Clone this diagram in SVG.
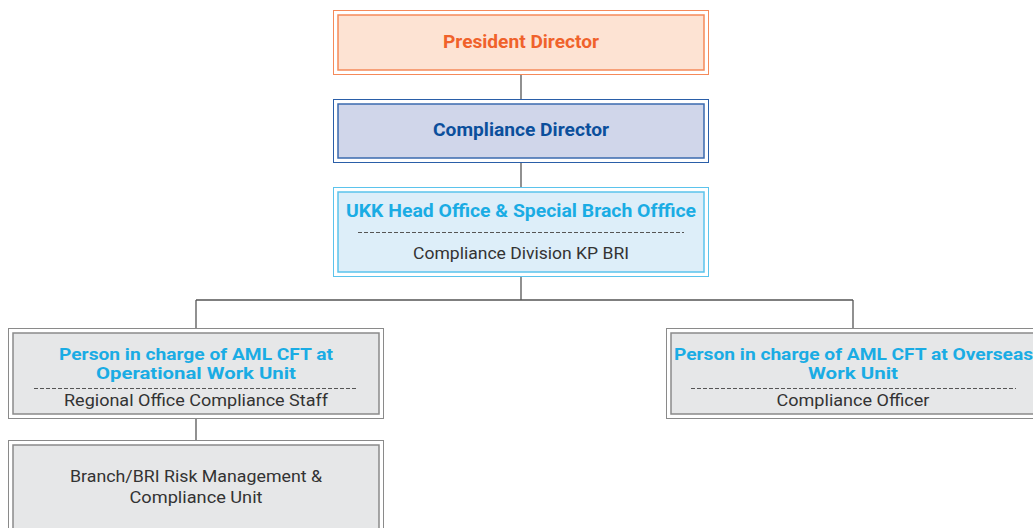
<svg xmlns="http://www.w3.org/2000/svg" width="1033" height="528" viewBox="0 0 1033 528">
<style>
text{font-family:Roboto,"Liberation Sans",sans-serif;text-anchor:middle}
.b{font-weight:bold;font-size:18px}
.b2{font-weight:bold;font-size:16.2px}
.r{font-size:17px;fill:#333333}
.or .o{fill:none;stroke:#f58a5a;stroke-width:1}
.or .i{fill:#fde3d3;stroke:#f58a5a;stroke-width:1.5}
.or text{fill:#f0622b}
.bl .o{fill:none;stroke:#2a5ea8;stroke-width:1}
.bl .i{fill:#d0d6ea;stroke:#3a6aae;stroke-width:1.5}
.bl text{fill:#0b4f9c}
.cy .o{fill:none;stroke:#5bc3ec;stroke-width:1}
.cy .i{fill:#ddeef9;stroke:#5bc3ec;stroke-width:1.5}
.cy text.b{fill:#1aace4}
.gr .o{fill:none;stroke:#8a8a8a;stroke-width:1}
.gr .i{fill:#e6e7e8;stroke:#8a8a8a;stroke-width:1.5}
.gr text.b2{fill:#1aace4}
.dash{stroke:#555555;stroke-width:1;stroke-dasharray:4,2;fill:none}
.conn line{stroke:#555555;stroke-width:1.3}
</style>
<g class="conn">
<line x1="521" y1="74" x2="521" y2="99"/>
<line x1="521" y1="162" x2="521" y2="187"/>
<line x1="521" y1="276" x2="521" y2="300"/>
<line x1="196" y1="300" x2="853" y2="300"/>
<line x1="196" y1="300" x2="196" y2="329"/>
<line x1="853" y1="300" x2="853" y2="329"/>
<line x1="196" y1="418" x2="196" y2="441"/>
</g>
<g id="president" class="or">
<rect class="o" x="333.5" y="10.5" width="375" height="64"/>
<rect class="i" x="338" y="15" width="366" height="55"/>
<text class="b" x="521" y="48" textLength="156" lengthAdjust="spacingAndGlyphs">President Director</text>
</g>
<g id="compliance-director" class="bl">
<rect class="o" x="333.5" y="99.5" width="375" height="63"/>
<rect class="i" x="338" y="104" width="366" height="54"/>
<text class="b" x="521" y="136" textLength="176" lengthAdjust="spacingAndGlyphs">Compliance Director</text>
</g>
<g id="ukk" class="cy">
<rect class="o" x="333.5" y="187.5" width="375" height="89"/>
<rect class="i" x="338" y="192" width="366" height="80"/>
<text class="b" x="521" y="217" textLength="350" lengthAdjust="spacingAndGlyphs">UKK Head Office &amp; Special Brach Offfice</text>
<line class="dash" x1="358" y1="232.5" x2="684" y2="232.5"/>
<text class="r" x="521" y="259" textLength="216" lengthAdjust="spacingAndGlyphs">Compliance Division KP BRI</text>
</g>
<g id="operational" class="gr">
<rect class="o" x="8.5" y="328.5" width="375" height="90"/>
<rect class="i" x="13" y="333" width="366" height="81"/>
<text class="b2" x="196" y="360" textLength="274" lengthAdjust="spacingAndGlyphs">Person in charge of AML CFT at</text>
<text class="b2" x="196" y="379" textLength="200" lengthAdjust="spacingAndGlyphs">Operational Work Unit</text>
<line class="dash" x1="34" y1="388.5" x2="358" y2="388.5"/>
<text class="r" x="196" y="406" textLength="264" lengthAdjust="spacingAndGlyphs">Regional Office Compliance Staff</text>
</g>
<g id="overseas" class="gr">
<rect class="o" x="666.5" y="328.5" width="375" height="90"/>
<rect class="i" x="671" y="333" width="366" height="81"/>
<text class="b2" x="853.5" y="360" textLength="359" lengthAdjust="spacingAndGlyphs">Person in charge of AML CFT at Overseas</text>
<text class="b2" x="853" y="379" textLength="90" lengthAdjust="spacingAndGlyphs">Work Unit</text>
<line class="dash" x1="691" y1="388.5" x2="1016" y2="388.5"/>
<text class="r" x="853" y="406" textLength="153" lengthAdjust="spacingAndGlyphs">Compliance Officer</text>
</g>
<g id="branch" class="gr">
<rect class="o" x="8.5" y="440.5" width="375" height="95"/>
<rect class="i" x="13" y="445" width="366" height="90"/>
<text class="r" x="196" y="482" textLength="252" lengthAdjust="spacingAndGlyphs">Branch/BRI Risk Management &amp;</text>
<text class="r" x="196" y="503" textLength="133" lengthAdjust="spacingAndGlyphs">Compliance Unit</text>
</g>
</svg>
